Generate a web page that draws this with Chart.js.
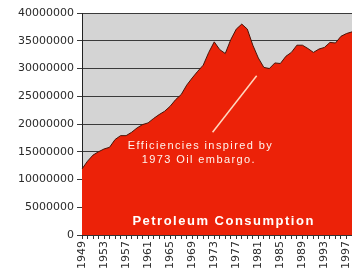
<!DOCTYPE html>
<html>
<head>
<meta charset="utf-8">
<script src="https://cdn.jsdelivr.net/npm/chart.js@4"></script>
<style>
  html, body { margin: 0; padding: 0; background: #fff; }
  canvas { display: block; }
</style>
</head>
<body>
<canvas id="petroChart" width="352" height="278"></canvas>
<script>
// years on the x axis
var years = [];
for (var yr = 1949; yr <= 1998; yr++) years.push(String(yr));

// consumption
var consumption = [
    11900000, 13300000, 14400000, 15000000, 15500000, 15800000, 17200000, 17900000, 17900000, 18500000,
    19300000, 19900000, 20200000, 21000000, 21700000, 22300000, 23200000, 24400000, 25300000, 27000000,
    28300000, 29500000, 30600000, 32900000, 34800000, 33400000, 32700000, 35200000, 37100000, 38000000,
    37100000, 34200000, 31900000, 30200000, 30000000, 31000000, 30900000, 32200000, 32900000, 34200000,
    34200000, 33600000, 32900000, 33500000, 33800000, 34700000, 34600000, 35800000, 36300000, 36600000
];

var yTicks = [0, 5000000, 10000000, 15000000, 20000000, 25000000, 30000000, 35000000, 40000000];

var noteLines = ['Efficiencies inspired by', '1973 Oil embargo.'];
var title = 'Petroleum Consumption';

// plot background grey
const bgPlugin = {
    id: 'plotBg',
    beforeDraw(chart) {
        const a = chart.chartArea;
        const ctx = chart.ctx;
        ctx.save();
        ctx.fillStyle = '#d4d4d4';
        ctx.fillRect(a.left, a.top, a.right - a.left, a.bottom - a.top);
        ctx.restore();
    }
};

// the pointer line and the white texts
const notesPlugin = {
    id: 'notes',
    afterDatasetsDraw(chart) {
        const x = chart.scales.x, y = chart.scales.y;
        const ctx = chart.ctx;
        ctx.save();
        ctx.strokeStyle = '#ffd8c0';
        ctx.lineWidth = 1.5;
        ctx.beginPath();
        ctx.moveTo(x.getPixelForValue(23.7), y.getPixelForValue(18500000));
        ctx.lineTo(x.getPixelForValue(31.7), y.getPixelForValue(28700000));
        ctx.stroke();

        ctx.fillStyle = '#fff4ee';
        ctx.textAlign = 'center';
        ctx.textBaseline = 'middle';
        ctx.font = '11px "Liberation Sans", Arial, sans-serif';
        ctx.letterSpacing = '1.4px';
        ctx.fillText(noteLines[0], x.getPixelForValue(21.5), y.getPixelForValue(16100000));
        ctx.fillText(noteLines[1], x.getPixelForValue(21.2), y.getPixelForValue(13600000));

        ctx.fillStyle = '#ffffff';
        ctx.font = 'bold 13px "Liberation Sans", Arial, sans-serif';
        ctx.letterSpacing = '1.5px';
        ctx.fillText(title, x.getPixelForValue(25.7), y.getPixelForValue(2500000));
        ctx.restore();
    }
};

const ctx = document.getElementById('petroChart').getContext('2d');
const chart = new Chart(ctx, {
    type: 'line',
    data: {
        labels: years,
        datasets: [{
            data: consumption,
            fill: 'origin',
            backgroundColor: '#ec2208',
            borderColor: '#4a1408',
            borderWidth: 1,
            pointRadius: 0,
            tension: 0
        }]
    },
    options: {
        responsive: false,
        animation: false,
        layout: { padding: { left: 0, right: 0, top: 13, bottom: 1 } },
        plugins: {
            legend: { display: false },
            tooltip: { enabled: false }
        },
        scales: {
            x: {
                offset: false,
                border: { display: true, color: '#333' },
                grid: { display: true, drawOnChartArea: false, drawTicks: true, tickLength: 4, color: '#333' },
                ticks: {
                    autoSkip: false,
                    maxRotation: 90,
                    minRotation: 90,
                    padding: 2,
                    color: '#2a2a2a',
                    font: { family: 'DejaVu Sans', size: 11 },
                    callback: function (val, idx) { return idx % 4 === 0 ? years[idx] : ''; }
                },
                afterFit: function (s) { s.paddingRight = 0; s.paddingLeft = 0; s.height = 42; }
            },
            y: {
                min: 0,
                max: 40000000,
                afterBuildTicks: function (s) { s.ticks = yTicks.map(v => ({ value: v })); },
                afterFit: function (s) { s.width = 82; },
                border: { display: true, color: '#222' },
                grid: { color: '#3a3a3a', lineWidth: 1, drawTicks: true, tickLength: 5 },
                ticks: {
                    padding: 3,
                    color: '#2a2a2a',
                    font: { family: 'DejaVu Sans', size: 11 },
                    callback: function (v) { return String(v); }
                }
            }
        }
    },
    plugins: [bgPlugin, notesPlugin]
});
</script>
</body>
</html>
